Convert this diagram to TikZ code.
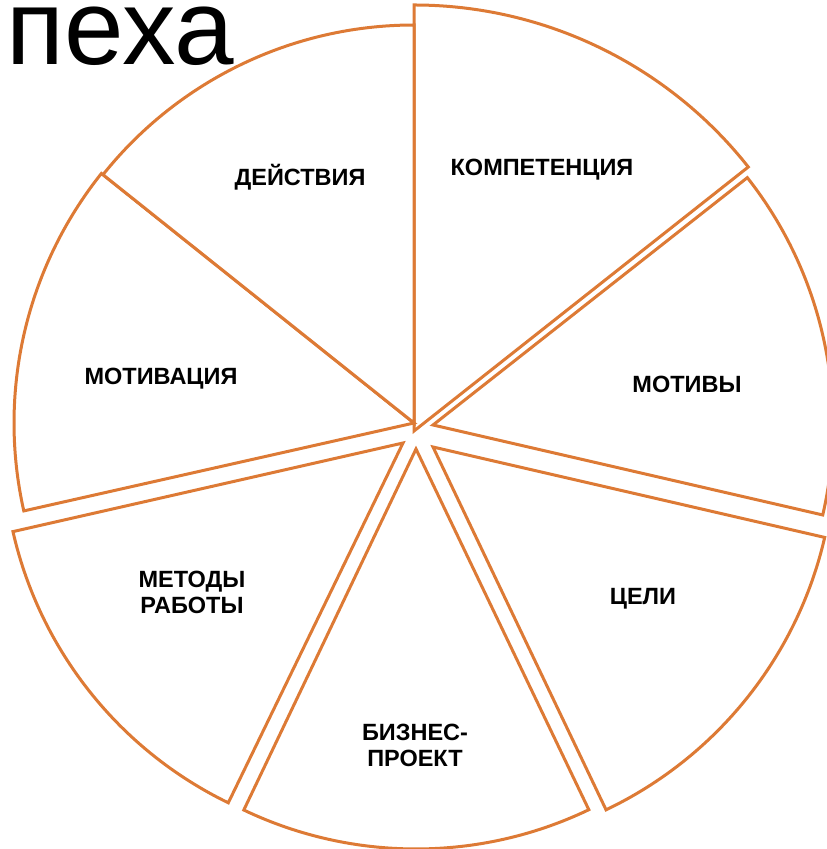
\documentclass[tikz,border=0pt]{standalone}
\usepackage{fontspec}
\setmainfont{Liberation Sans}
\usetikzlibrary{calc}
\definecolor{sliceorange}{HTML}{DD7A35}
\tikzset{
  slicestyle/.style={draw=sliceorange, line width=3pt, fill=white, line join=miter},
  label/.style={font=\fontsize{23.5}{26}\selectfont\bfseries, align=center, text=black, inner sep=0pt},
  headline/.style={font=\fontsize{107}{120}\selectfont, text=black, inner sep=0pt, anchor=base east}
}
% one exploded pie slice: apex, radius, start angle, end angle
\newcommand\pieslice[4]{%
  \draw[slicestyle] (#1) -- ($(#1)+({#3}:#2)$) arc[start angle={#3}, end angle={#4}, radius=#2] -- cycle;%
}
\begin{document}
\begin{tikzpicture}[x=1pt,y=1pt]
\useasboundingbox (0,0) rectangle (827,849);
\begin{scope}
\clip (0,0) rectangle (827,849);
\node[headline] (title) at (234,784) {пеха};
\end{scope}

% apex of every slice
\coordinate (aAct)  at (414,426);
\coordinate (aComp) at (414,418);
\coordinate (aMotv) at (433,424);
\coordinate (aGoal) at (433,402);
\coordinate (aProj) at (416,400);
\coordinate (aMeth) at (403,406);
\coordinate (aMotn) at (414,426);

\pieslice{aComp}{426}{38.3}{90}
\pieslice{aMotv}{400}{-13}{38.2}
\pieslice{aGoal}{402}{-64.5}{-13}
\pieslice{aProj}{400}{-115.5}{-64.4}
\pieslice{aMeth}{400}{-167.2}{-115.9}
\pieslice{aMotn}{400}{141.4}{192.7}
\pieslice{aAct}{398}{90}{141.4}

\node[label] (lAct)  at (300,672) {ДЕЙСТВИЯ};
\node[label] (lComp) at (542,679) {КОМПЕТЕНЦИЯ};
\node[label] (lMotn) at (161,470) {МОТИВАЦИЯ};
\node[label] (lMotv) at (687,465) {МОТИВЫ};
\node[label] (lMeth) at (192,257) {МЕТОДЫ\\РАБОТЫ};
\node[label] (lGoal) at (643,250) {ЦЕЛИ};
\node[label] (lProj) at (415,104) {БИЗНЕС-\\ПРОЕКТ};
\end{tikzpicture}
\end{document}
